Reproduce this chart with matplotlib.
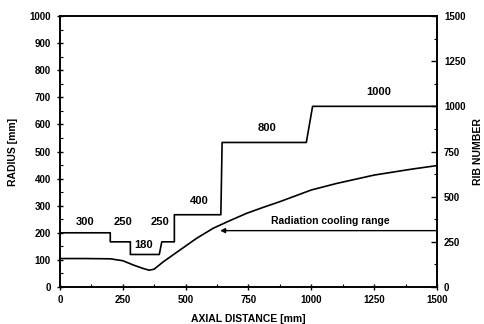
import matplotlib
matplotlib.use("Agg")
import matplotlib.pyplot as plt
from matplotlib.ticker import MultipleLocator

plt.rcParams['font.family'] = ['Liberation Sans', 'DejaVu Sans']
plt.rcParams['font.weight'] = 'bold'

# Radius contour (left axis, mm)
axial_mm = [0, 100, 200, 250, 292, 332, 355, 375, 411, 478, 544, 610, 676, 743, 809, 875,
            1000, 1100, 1250, 1400, 1500]
radius_mm = [105, 105, 104, 97, 81, 68, 62, 66, 93, 137, 180, 217, 245, 272, 294, 315,
             358, 382, 413, 435, 448]

# Rib number distribution (right axis)
rib_x = [0, 200, 200, 280, 280, 395, 405, 455, 455, 640, 645, 980, 1005, 1500]
rib_n = [300, 300, 250, 250, 180, 180, 250, 250, 400, 400, 800, 800, 1000, 1000]

# Rib number annotations: (label, x, radius-axis y)
rib_labels = ["300", "250", "180", "250", "400", "800", "1000"]
rib_label_x = [100, 252, 331, 398, 555, 822, 1266]
rib_label_y = [240, 240, 155, 240, 318, 585, 718]

cooling_text = "Radiation cooling range"
cooling_start = 1500
cooling_end = 637
cooling_level = 208

fig = plt.figure(figsize=(4.84, 3.24), dpi=100)
ax = fig.add_axes([60/484, 37/324, 377/484, 271/324])
ax2 = ax.twinx()

lw = 1.2
ax.plot(axial_mm, radius_mm, color='black', lw=lw)
ax2.plot(rib_x, rib_n, color='black', lw=lw)

for lab, lx, ly in zip(rib_labels, rib_label_x, rib_label_y):
    ax.text(lx, ly, lab, ha='center', va='center', fontsize=8, fontweight='bold')

ax.annotate("", xy=(cooling_end, cooling_level), xytext=(cooling_start, cooling_level),
            arrowprops=dict(arrowstyle='-|>', color='black', lw=1.0,
                            mutation_scale=7, shrinkA=0, shrinkB=0))
ax.text(1075, 243, cooling_text, ha='center', va='center', fontsize=7.5,
        fontweight='bold')

ax.set_xlim(0, 1500)
ax.set_ylim(0, 1000)
ax2.set_ylim(0, 1500)

ax.xaxis.set_major_locator(MultipleLocator(250))
ax.xaxis.set_minor_locator(MultipleLocator(125))
ax.yaxis.set_major_locator(MultipleLocator(100))
ax.yaxis.set_minor_locator(MultipleLocator(50))
ax2.yaxis.set_major_locator(MultipleLocator(250))
ax2.yaxis.set_minor_locator(MultipleLocator(125))

ax.tick_params(axis='x', which='major', direction='inout', length=5, width=1, pad=3, labelsize=7)
ax.tick_params(axis='x', which='minor', direction='in', length=2, width=0.8)
ax.tick_params(axis='y', which='major', direction='inout', length=5, width=1, pad=4, labelsize=7)
ax.tick_params(axis='y', which='minor', direction='in', length=2, width=0.8)
ax.tick_params(top=False, which='both')
ax2.tick_params(axis='y', which='major', direction='in', length=4, width=1, pad=5, labelsize=7)
ax2.tick_params(axis='y', which='minor', direction='in', length=2, width=0.8)

for a in (ax, ax2):
    for s in a.spines.values():
        s.set_linewidth(1.2)

ax.set_xlabel("AXIAL DISTANCE [mm]", fontsize=7.5, fontweight='bold', labelpad=7)
ax.set_ylabel("RADIUS [mm]", fontsize=7.5, fontweight='bold', labelpad=8)
ax2.set_ylabel("RIB NUMBER", fontsize=7.5, fontweight='bold', labelpad=5)

fig.savefig("out.png", dpi=100)
